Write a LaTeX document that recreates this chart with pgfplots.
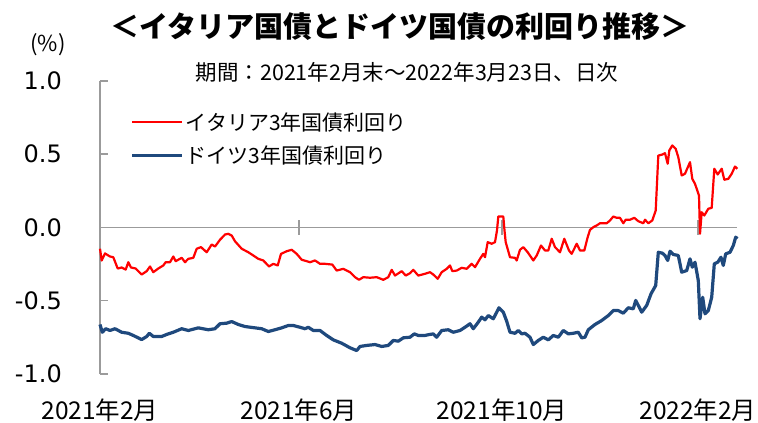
\documentclass[border=0pt]{standalone}
\usepackage{pgfplots}
\pgfplotsset{compat=1.18}
\usepackage{fontspec}
\setmainfont{Noto Sans CJK JP}
\newfontfamily\tickfont{DejaVu Sans}
\definecolor{itred}{RGB}{255,0,0}
\definecolor{deblue}{RGB}{31,73,125}
\definecolor{axgray}{RGB}{155,155,155}
\begin{document}
\begin{tikzpicture}[x=1pt,y=1pt]
\path[use as bounding box] (0,0) rectangle (758,423);
\node[font=\fontsize{29}{29}\selectfont\bfseries] at (400,396) {＜イタリア国債とドイツ国債の利回り推移＞};
\node[font=\fontsize{21.5}{21.5}\selectfont] at (407,351) {期間：2021年2月末～2022年3月23日、日次};
\node[font=\fontsize{22}{22}\selectfont] at (48,378) {(\%)};
\begin{axis}[
 at={(100pt,49pt)}, anchor=south west,
 scale only axis, width=637.3pt, height=293pt,
 xmin=0, xmax=637.3, ymin=-1, ymax=1,
 axis y line*=left, axis x line*=middle,
 hide obscured x ticks=false,
 axis line style={axgray, line width=1.5pt},
 every tick/.style={axgray, line width=1.5pt},
 ytick={-1,-0.5,0,0.5,1},
 yticklabel style={font=\tickfont\fontsize{24}{24}\selectfont, anchor=east, inner sep=0pt, xshift=-38pt},
 /pgf/number format/.cd, fixed, fixed zerofill, precision=1, assume math mode=true, /pgfplots/.cd,
 xtick={0,199,402,598},
 xticklabels={2021年2月,2021年6月,2021年10月,2022年2月},
 xticklabel style={font=\fontsize{24.5}{24.5}\selectfont, anchor=base, inner sep=0pt, yshift=-188pt},
 ytick align=inside, xtick align=center,
 major tick length=8pt,
 xtick style={/pgfplots/major tick length=15pt},
 legend style={at={(0.048,0.9)}, anchor=north west, draw=none, fill=none, inner sep=0pt,
   font=\fontsize{21}{21}\selectfont, row sep=10pt, cells={anchor=west}},
 legend image code/.code={\draw[#1] (0pt,0pt) -- (50pt,0pt);},
 clip=false,
]
\addplot[itred, line width=2.2pt, line join=round] coordinates {
(0,-0.145) (1.7,-0.225) (5,-0.177) (10,-0.198) (13.3,-0.203) (17.7,-0.280) (21.7,-0.273) (25.7,-0.287) (28.3,-0.237) (31,-0.273) (35.7,-0.280) (41.7,-0.321) (46.7,-0.298) (50,-0.266) (53.3,-0.305) (58.3,-0.280) (63.3,-0.259) (65.7,-0.237) (70,-0.237) (73.3,-0.198) (75.7,-0.230) (81.7,-0.207) (85,-0.237) (88.3,-0.214) (93.3,-0.207) (96.7,-0.145) (101,-0.134) (106.7,-0.169) (111.7,-0.116) (115,-0.130) (120,-0.084) (125,-0.048) (128.3,-0.043) (131.7,-0.055) (135,-0.094) (141.7,-0.145) (148.3,-0.169) (153.3,-0.191) (158.3,-0.214) (163.3,-0.225) (169,-0.266) (173.3,-0.248) (177.7,-0.259) (181,-0.180) (186.7,-0.162) (191.7,-0.152) (196.7,-0.180) (201.7,-0.220) (206.7,-0.230) (210,-0.237) (215,-0.225) (220,-0.248) (225,-0.248) (232.3,-0.253) (236.7,-0.294) (243.3,-0.282) (250,-0.305) (255,-0.339) (259,-0.357) (263.3,-0.339) (270,-0.343) (276.7,-0.339) (283.3,-0.357) (288.3,-0.339) (291.7,-0.289) (295,-0.328) (301.7,-0.298) (305.7,-0.328) (310,-0.312) (313.3,-0.289) (316.7,-0.316) (318.3,-0.328) (325,-0.316) (330,-0.305) (333.3,-0.321) (337.7,-0.350) (341.7,-0.305) (346.7,-0.282) (350,-0.259) (352.3,-0.298) (356.7,-0.294) (361.7,-0.275) (366.7,-0.282) (371.7,-0.248) (375,-0.271) (380,-0.214) (383.3,-0.180) (385,-0.203) (387.7,-0.100) (391.7,-0.111) (395,-0.100) (397,-0.02) (398.3,0.075) (403.3,0.075) (404.5,-0.02) (405.7,-0.100) (410,-0.203) (415,-0.207) (416.7,-0.225) (420,-0.152) (423.3,-0.134) (427.7,-0.169) (433.3,-0.225) (436.7,-0.191) (441,-0.123) (445,-0.157) (448.3,-0.157) (451.7,-0.077) (455,-0.134) (460,-0.169) (464.3,-0.077) (469,-0.157) (471.7,-0.180) (476.7,-0.111) (480,-0.157) (484.3,-0.157) (487.7,-0.066) (490,-0.016) (493.3,0.002) (496.7,0.014) (500,0.029) (506.7,0.029) (510,0.048) (513.3,0.075) (516.7,0.066) (520,0.066) (523.3,0.029) (525.7,0.053) (530,0.053) (534.3,0.066) (538.3,0.043) (543.3,0.029) (545,0.053) (548.3,0.029) (552.3,0.048) (555.7,0.116) (558.3,0.491) (562.3,0.498) (565,0.507) (567.7,0.435) (569.3,0.526) (572.3,0.560) (575.7,0.537) (578.3,0.480) (581.7,0.355) (585,0.367) (590,0.446) (592.3,0.332) (595,0.298) (599,0.218) (600,-0.043) (601.7,0.104) (604.3,0.082) (608.3,0.128) (611.7,0.134) (614.3,0.401) (617.7,0.362) (621.7,0.401) (624.3,0.326) (628.3,0.332) (631.7,0.367) (635,0.416) (637.3,0.401)
};
\addlegendentry{イタリア3年国債利回り}
\addplot[deblue, line width=3.2pt, line join=round] coordinates {
(0,-0.662) (2.3,-0.715) (5.7,-0.691) (10,-0.703) (15,-0.691) (21.7,-0.715) (28.3,-0.722) (33.3,-0.737) (41.7,-0.765) (46.7,-0.744) (49.3,-0.722) (53.3,-0.744) (61.7,-0.744) (66.7,-0.730) (73.3,-0.715) (81.7,-0.691) (88.3,-0.703) (98.3,-0.685) (108.3,-0.698) (115,-0.691) (120,-0.657) (126.7,-0.653) (131.7,-0.642) (138.3,-0.662) (145,-0.676) (155,-0.685) (161.7,-0.691) (168.3,-0.710) (175,-0.698) (181.7,-0.685) (188.3,-0.669) (193.3,-0.669) (200,-0.681) (205,-0.691) (208.3,-0.681) (213.3,-0.703) (220,-0.703) (226.7,-0.737) (233.3,-0.767) (241.7,-0.790) (250,-0.821) (256.7,-0.840) (260,-0.812) (266.7,-0.805) (275,-0.799) (281.7,-0.812) (288.3,-0.805) (293.3,-0.771) (298.3,-0.776) (303.3,-0.753) (310,-0.749) (314.3,-0.726) (318.3,-0.737) (325,-0.737) (328.3,-0.732) (333.3,-0.726) (336.7,-0.749) (341.7,-0.703) (348.3,-0.698) (353.3,-0.715) (360,-0.703) (365,-0.681) (370,-0.657) (373.3,-0.691) (378.3,-0.646) (381.7,-0.612) (385,-0.630) (388.3,-0.601) (393.3,-0.623) (399,-0.548) (403.3,-0.578) (406.7,-0.640) (410,-0.715) (415,-0.722) (418.3,-0.703) (421.7,-0.726) (425,-0.722) (430,-0.749) (433.3,-0.799) (438.3,-0.771) (443.3,-0.749) (448.3,-0.767) (453.3,-0.737) (458.3,-0.749) (463.3,-0.703) (468.3,-0.726) (473.3,-0.722) (478.3,-0.715) (481.7,-0.753) (485,-0.749) (488.3,-0.698) (495,-0.662) (501.7,-0.635) (508.3,-0.601) (513.3,-0.567) (518.3,-0.567) (523.3,-0.585) (528.3,-0.548) (533.3,-0.555) (535.7,-0.498) (538.3,-0.532) (541.7,-0.578) (546.7,-0.532) (551,-0.453) (555.7,-0.396) (558.3,-0.169) (562.3,-0.175) (565,-0.191) (567.7,-0.225) (570,-0.162) (573.3,-0.184) (578.3,-0.191) (581.7,-0.305) (586.7,-0.294) (590,-0.214) (592.3,-0.271) (595,-0.237) (598.3,-0.362) (600,-0.623) (602.7,-0.476) (605,-0.589) (608.3,-0.567) (611.7,-0.476) (614.3,-0.248) (617.7,-0.237) (621,-0.203) (623.3,-0.259) (625.7,-0.180) (630,-0.169) (633.3,-0.123) (635.7,-0.066) (637.3,-0.077)
};
\addlegendentry{ドイツ3年国債利回り}
\end{axis}
\end{tikzpicture}
\end{document}
